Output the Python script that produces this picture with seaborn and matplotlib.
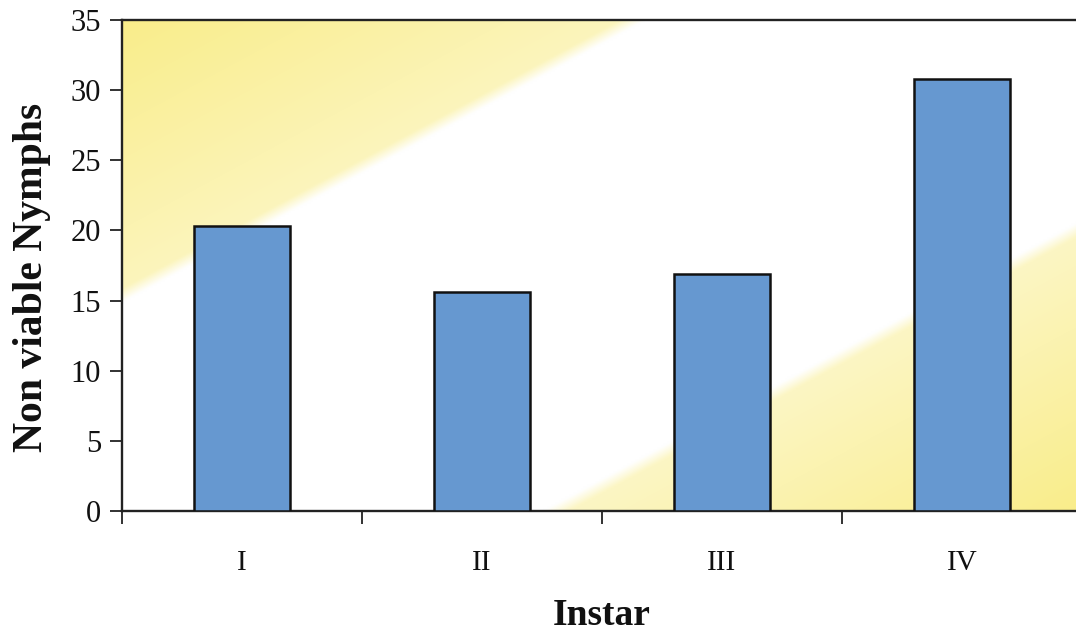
import numpy as np
import pandas as pd
import matplotlib
matplotlib.use("Agg")
import matplotlib.pyplot as plt
import seaborn as sns

# Non-viable nymphs counted per instar
instars = ["I", "II", "III", "IV"]
non_viable = [20.3, 15.6, 16.9, 30.8]
y_ticks = [0, 5, 10, 15, 20, 25, 30, 35]

sns.set_theme(style="white")
plt.rcParams["font.family"] = ["Liberation Serif", "DejaVu Serif"]
for key in ["text.color", "axes.labelcolor", "xtick.color", "ytick.color"]:
    plt.rcParams[key] = "#111111"

W, H = 1076, 634
fig = plt.figure(figsize=(W / 100, H / 100), dpi=100)
ax_left, ax_right, ax_top, ax_bottom = 122, 1082, 20, 511
ax = fig.add_axes([ax_left / W, (H - ax_bottom) / H,
                   (ax_right - ax_left) / W, (ax_bottom - ax_top) / H])

df = pd.DataFrame({"Instar": instars, "Count": non_viable})
sns.barplot(data=df, x="Instar", y="Count", ax=ax, width=0.4,
            color="#6698D0", saturation=1, edgecolor="#111111",
            linewidth=1.8, zorder=3)

# Diagonal yellow wash behind the bars
nx, ny = 480, 250
u = np.linspace(0, 1, nx)
v = np.linspace(1, 0, ny)
U, V = np.meshgrid(u, v)
px = ax_left + U * (ax_right - ax_left)
py = ax_bottom - V * (ax_bottom - ax_top)
s = py + 0.54 * px
s_up, s_lo = 368, 805
upper = np.clip(0.55 + 0.45 * (s_up - s) / (s_up - 84), 0, 1) * np.clip((s_up - s) / 14, 0, 1)
lower = np.clip(0.48 + 0.52 * (s - s_lo) / (1095 - s_lo), 0, 1) * np.clip((s - s_lo) / 14, 0, 1)
a = np.maximum(upper, lower)[..., None]
yellow = np.array([249, 237, 138]) / 255.0
img = (1 - a) * 1.0 + a * yellow
ax.imshow(img, extent=(-0.5, 3.5, 0, 35), aspect="auto", zorder=0,
          interpolation="bilinear")
ax.set_xlim(-0.5, 3.5)
ax.set_ylim(0, 35)

# Ticks: y ticks outward, x ticks at category boundaries, labels centred
ax.set_yticks(y_ticks)
ax.set_yticklabels([str(t) for t in y_ticks], fontsize=22)
ax.set_xticks([-0.5, 0.5, 1.5, 2.5, 3.5])
ax.set_xticklabels([])
ax.set_xticks(range(len(instars)), minor=True)
ax.set_xticklabels(instars, minor=True, fontsize=21)
ax.tick_params(axis="y", which="major", direction="out", length=9, width=1.3,
               color="#222222", pad=6, left=True)
ax.tick_params(axis="x", which="major", direction="out", length=9, width=1.3,
               color="#222222", bottom=True)
ax.tick_params(axis="x", which="minor", length=0, pad=28)

for side in ["left", "top", "bottom"]:
    ax.spines[side].set_visible(True)
    ax.spines[side].set_color("#222222")
    ax.spines[side].set_linewidth(1.7)
ax.spines["right"].set_visible(False)

ax.set_xlabel("Instar", fontsize=27, fontweight="bold")
ax.xaxis.set_label_coords((602 - ax_left) / (ax_right - ax_left),
                          (ax_bottom - 598) / (ax_bottom - ax_top))
ax.set_ylabel("Non viable Nymphs", fontsize=30, fontweight="bold")
ax.yaxis.set_label_coords(-0.074, (ax_bottom - 277) / (ax_bottom - ax_top))

fig.savefig("out.png", dpi=100, facecolor="white")
